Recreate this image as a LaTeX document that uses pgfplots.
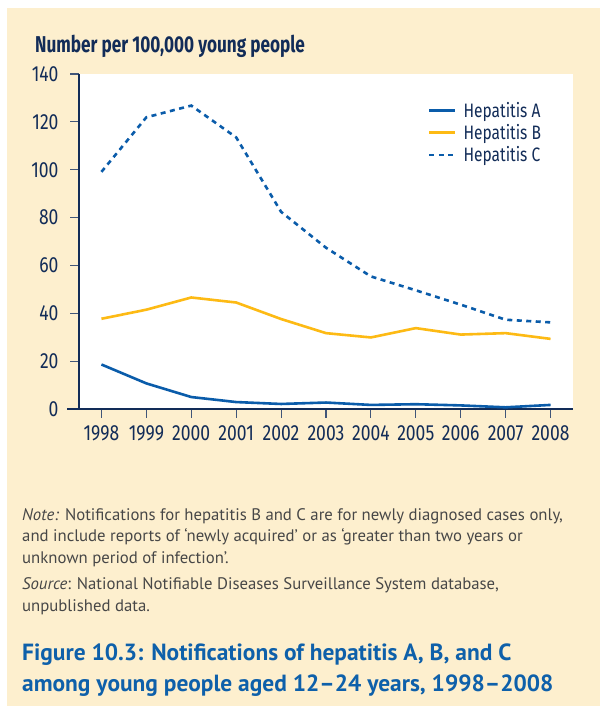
\documentclass[border=0pt]{standalone}
\usepackage{fontspec}
\setmainfont{PT Sans}
\newfontfamily\condfont[FakeStretch=0.8]{Fira Sans}
\newfontfamily\condbold[FakeStretch=0.75]{Fira Sans Bold}
\usepackage{pgfplots}
\pgfplotsset{compat=1.18}
\definecolor{panel}{RGB}{253,239,206}
\definecolor{navy}{RGB}{18,44,88}
\definecolor{hblue}{RGB}{10,92,170}
\definecolor{hyellow}{RGB}{253,186,20}
\definecolor{titleblue}{RGB}{14,96,170}

\pgfplotstableread{
year A B C
1998 18.6 37.7 99.1
1999 10.7 41.5 121.9
2000 5.0 46.6 126.8
2001 2.9 44.5 113.5
2002 2.1 37.6 82.4
2003 2.7 31.7 67.4
2004 1.7 29.9 55.4
2005 2.0 33.8 49.6
2006 1.5 31.1 43.6
2007 0.7 31.7 37.3
2008 1.7 29.3 36.2
}\hepdata

\begin{document}
\begin{tikzpicture}
\fill[white] (0bp,0bp) rectangle (600bp,706bp);
\fill[panel] (7bp,0bp) rectangle (600bp,698bp);
\begin{axis}[
  at={(79bp,297bp)}, anchor=south west,
  width=494bp, height=335bp, scale only axis,
  xmin=1997.5, xmax=2008.5, ymin=0, ymax=140,
  axis background/.style={fill=white},
  axis x line*=bottom, axis y line*=left,
  axis line style={navy, line width=1.1bp, -},
  xtick={1998,...,2008}, ytick={0,20,...,140},
  tick align=outside, major tick length=9bp,
  x tick style={navy!80, line width=1.1bp},
  y tick style={navy!80, line width=1.1bp},
  /pgf/number format/assume math mode=true,
  x tick label style={/pgf/number format/1000 sep={}, font=\condfont\fontsize{22}{22}\selectfont, text=navy, yshift=-4bp},
  y tick label style={font=\condfont\fontsize{22}{22}\selectfont, text=navy, xshift=-8bp},
  legend style={at={(0.700,0.928)}, anchor=north west, draw=none, fill=none,
    font=\condfont\fontsize{19.5}{19.5}\selectfont, text=navy, row sep=1.5bp},
  legend cell align=left,
  legend image code/.code={\draw[#1] (0bp,0bp) -- (26bp,0bp); \path (31bp,0bp);},
]
\addplot[hblue, line width=2.6bp] table[x=year, y=A] {\hepdata};
\addlegendentry{Hepatitis A}
\addplot[hyellow, line width=2.6bp] table[x=year, y=B] {\hepdata};
\addlegendentry{Hepatitis B}
\addplot[hblue, line width=2.6bp, dash pattern=on 5bp off 4.5bp] table[x=year, y=C] {\hepdata};
\addlegendentry{Hepatitis C}
\end{axis}
\draw[navy, line width=1.1bp] (67bp,297bp) -- (79bp,297bp);
\node[anchor=base west, inner sep=0pt, text=navy, font=\condbold\fontsize{23}{23}\selectfont] at (35bp,653bp) {Number per 100,000 young people};
\begin{scope}[every node/.style={anchor=base west, inner sep=0pt, text=black!72, font=\fontsize{16.8}{18}\selectfont}]
\node at (22bp,185.5bp) {\textit{Note:} Notifications for hepatitis B and C are for newly diagnosed cases only,};
\node at (22bp,164bp) {and include reports of ‘newly acquired’ or as ‘greater than two years or};
\node at (22bp,142.5bp) {unknown period of infection’.};
\node at (22bp,116.5bp) {\textit{Source}: National Notifiable Diseases Surveillance System database,};
\node at (22bp,94.5bp) {unpublished data.};
\end{scope}
\begin{scope}[every node/.style={anchor=base west, inner sep=0pt, text=titleblue, font=\bfseries\fontsize{23.5}{24}\selectfont}]
\node at (22bp,45bp) {Figure 10.3: Notifications of hepatitis A, B, and C};
\node at (22bp,15bp) {among young people aged 12–24 years, 1998–2008};
\end{scope}
\end{tikzpicture}
\end{document}
